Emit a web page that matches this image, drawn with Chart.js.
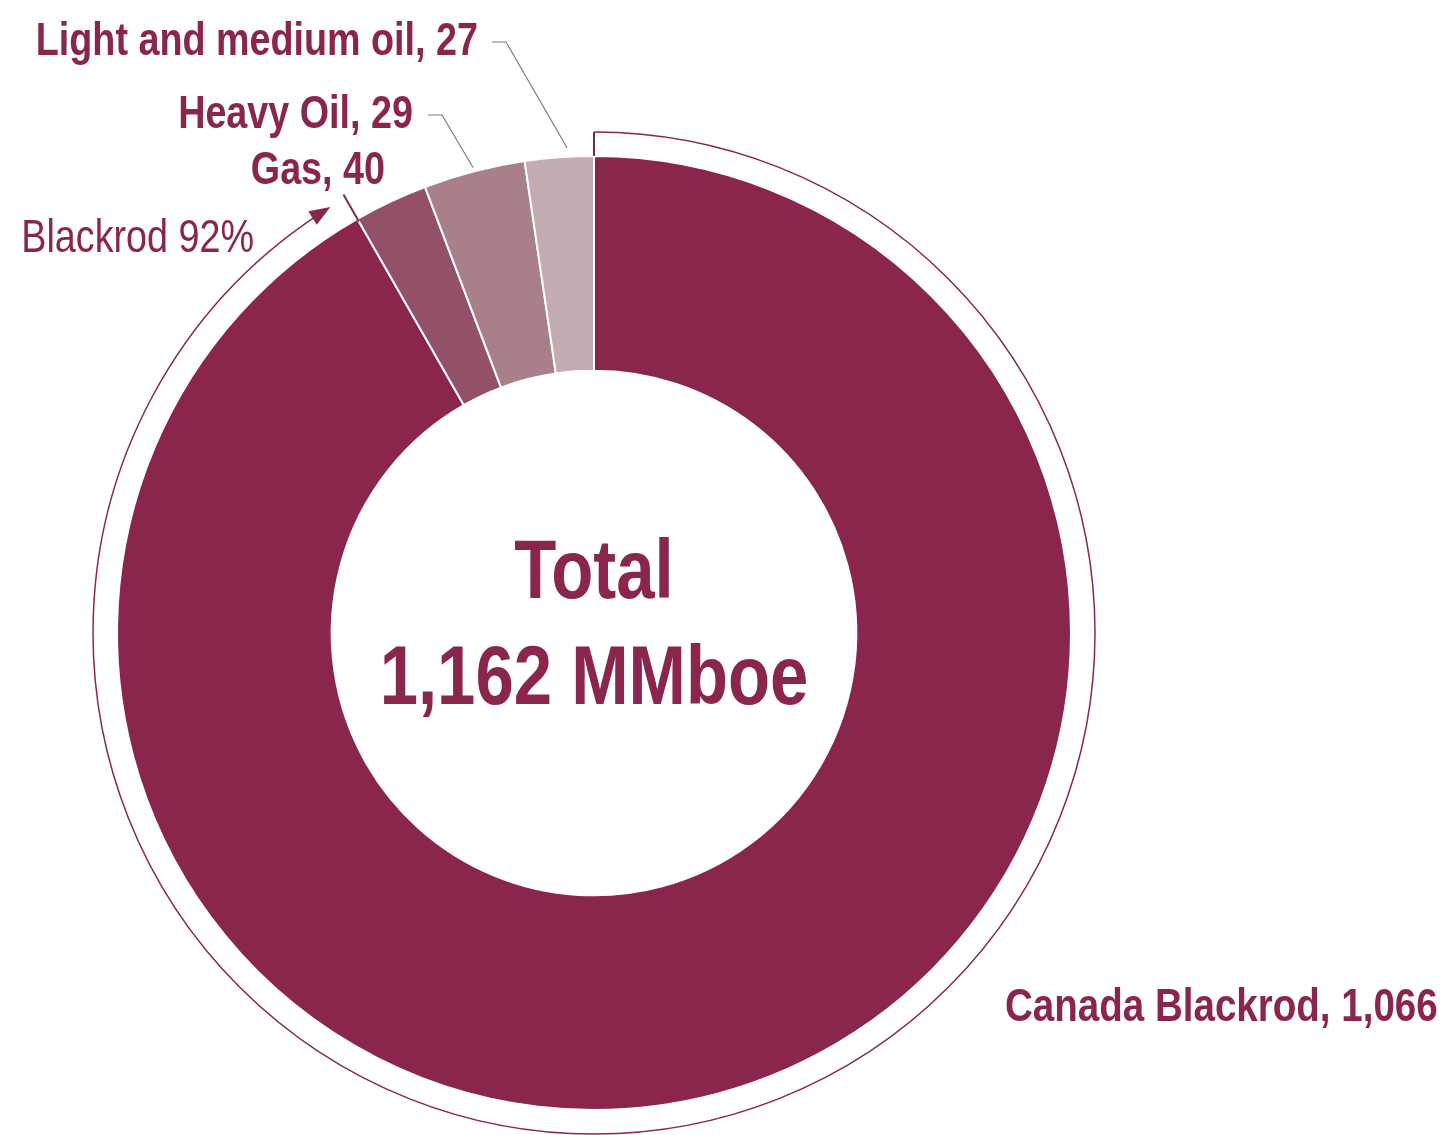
<!DOCTYPE html>
<html>
<head>
<meta charset="utf-8">
<script src="https://cdn.jsdelivr.net/npm/chart.js@4/dist/chart.umd.min.js"></script>
<style>
  html, body { margin: 0; padding: 0; background: #fff; }
  #wrap { position: relative; width: 1441px; height: 1135px; }
</style>
</head>
<body>
<div id="wrap"><canvas id="reservesChart"></canvas></div>
<script>
// reserves by asset (MMboe), slices clockwise from 12 o'clock as drawn
var categories = ['Canada Blackrod', 'Heavy Oil', 'Gas', 'Light and medium oil'];
var reserves = [1066, 29, 40, 27];
var sliceColours = ['#8a264e', '#935069', '#a98089', '#c4abb2'];
var centreLines = ['Total', '1,162 MMboe'];
var shareLabel = 'Blackrod 92%';

var MAROON = '#8a264e';
var FONT = '"Liberation Sans", Arial, sans-serif';
var NARROW = 0.82; // squeeze to a condensed face

function fmt(v) { return Number(v).toLocaleString('en-US'); }
function labelText(i) { return categories[i] + ', ' + fmt(reserves[i]); }
function polar(a, r, ang) { return { x: a.x + r * Math.cos(ang), y: a.y + r * Math.sin(ang) }; }

function narrowText(ctx, text, x, y, align, font) {
    ctx.save();
    ctx.translate(x, y);
    ctx.scale(NARROW, 1);
    ctx.font = font;
    ctx.textAlign = align;
    ctx.textBaseline = 'alphabetic';
    ctx.fillText(text, 0, 0);
    ctx.restore();
}

var annotations = {
    id: 'annotations',
    afterDraw: function (chart) {
        var ctx = chart.ctx;
        var arcs = chart.getDatasetMeta(0).data;
        var a0 = arcs[0].getProps(['x', 'y', 'startAngle', 'endAngle', 'outerRadius'], true);
        var R = a0.outerRadius;
        var ringR = R + 24;

        ctx.save();

        // outer ring showing Blackrod share
        ctx.strokeStyle = MAROON;
        ctx.lineWidth = 1.5;
        var tipAng = a0.endAngle - 0.035;
        ctx.beginPath();
        ctx.arc(a0.x, a0.y, ringR, a0.startAngle, tipAng - 0.03);
        ctx.stroke();

        // start tick
        ctx.lineWidth = 2;
        var t1 = polar(a0, R, a0.startAngle), t2 = polar(a0, ringR, a0.startAngle);
        ctx.beginPath(); ctx.moveTo(t1.x, t1.y); ctx.lineTo(t2.x, t2.y); ctx.stroke();

        // arrow head
        var tip = polar(a0, ringR, tipAng);
        var tx = -Math.sin(tipAng), ty = Math.cos(tipAng);
        var nx = Math.cos(tipAng), ny = Math.sin(tipAng);
        var len = 21, half = 8;
        var bx = tip.x - tx * len, by = tip.y - ty * len;
        ctx.fillStyle = MAROON;
        ctx.beginPath();
        ctx.moveTo(tip.x, tip.y);
        ctx.lineTo(bx + nx * half, by + ny * half);
        ctx.lineTo(bx - nx * half, by - ny * half);
        ctx.closePath();
        ctx.fill();

        // Gas leader: extension of the first slice boundary
        var g1 = polar(a0, R - 3, a0.endAngle), g2 = polar(a0, R + 28, a0.endAngle);
        ctx.lineWidth = 2;
        ctx.beginPath(); ctx.moveTo(g1.x, g1.y); ctx.lineTo(g2.x, g2.y); ctx.stroke();

        // text labels
        ctx.fillStyle = MAROON;
        var bold = 'bold 46px ' + FONT;
        narrowText(ctx, labelText(3), 478, 55, 'right', bold);
        narrowText(ctx, labelText(1), 413, 128, 'right', bold);
        narrowText(ctx, labelText(2), 385, 184, 'right', bold);
        narrowText(ctx, labelText(0), 1005, 1021, 'left', 'bold 47px ' + FONT);
        narrowText(ctx, shareLabel, 254, 252, 'right', '46px ' + FONT);

        // grey leaders
        ctx.strokeStyle = '#7a7a7a';
        ctx.lineWidth = 1.2;
        function leader(i, frac, r, lx, ly) {
            var p = arcs[i].getProps(['startAngle', 'endAngle'], true);
            var ang = p.startAngle + frac * (p.endAngle - p.startAngle);
            var e = polar(a0, r, ang);
            ctx.beginPath();
            ctx.moveTo(lx, ly);
            ctx.lineTo(lx + 14, ly);
            ctx.lineTo(e.x, e.y);
            ctx.stroke();
        }
        leader(2, 0.5, R + 4, 428, 115);
        leader(3, 0.62, R + 9, 492, 42);

        // centre text
        ctx.fillStyle = MAROON;
        narrowText(ctx, centreLines[0], a0.x, 598, 'center', 'bold 84px ' + FONT);
        narrowText(ctx, centreLines[1], a0.x, 704, 'center', 'bold 84px ' + FONT);

        ctx.restore();
    }
};

new Chart(document.getElementById('reservesChart'), {
    type: 'doughnut',
    data: {
        labels: categories,
        datasets: [{
            data: reserves,
            backgroundColor: sliceColours,
            borderColor: '#ffffff',
            borderWidth: 2,
            hoverOffset: 0
        }]
    },
    options: {
        responsive: true,
        maintainAspectRatio: false,
        animation: false,
        cutout: '55%',
        layout: { padding: { left: 116, right: 369, top: 155, bottom: 24 } },
        plugins: {
            legend: { display: false },
            tooltip: { enabled: false }
        }
    },
    plugins: [annotations]
});
</script>
</body>
</html>
